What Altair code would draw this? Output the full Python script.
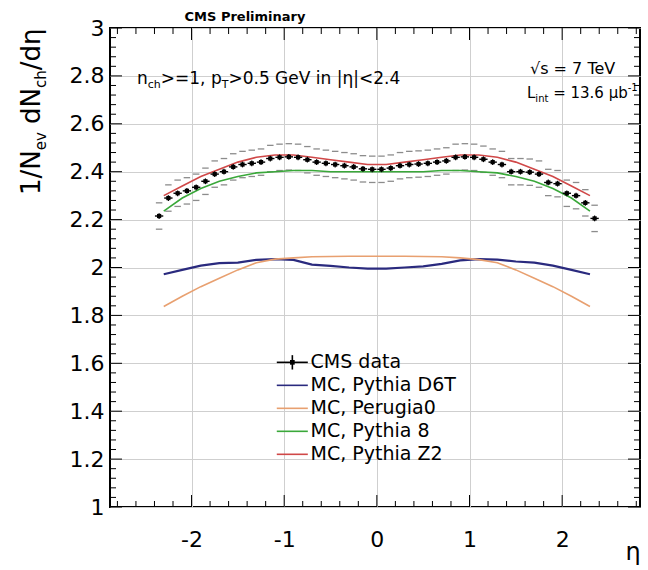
import altair as alt
import pandas as pd

# ---------------- data ----------------
ETA_DATA = [-2.35, -2.25, -2.15, -2.05, -1.95, -1.85, -1.75, -1.65, -1.55, -1.45, -1.35, -1.25,
            -1.15, -1.05, -0.95, -0.85, -0.75, -0.65, -0.55, -0.45, -0.35, -0.25, -0.15, -0.05,
            0.05, 0.15, 0.25, 0.35, 0.45, 0.55, 0.65, 0.75, 0.85, 0.95, 1.05, 1.15,
            1.25, 1.35, 1.45, 1.55, 1.65, 1.75, 1.85, 1.95, 2.05, 2.15, 2.25, 2.35]
DNDETA = [2.215, 2.29, 2.31, 2.32, 2.335, 2.36, 2.39, 2.40, 2.42, 2.43, 2.435, 2.44,
          2.455, 2.46, 2.462, 2.46, 2.45, 2.44, 2.435, 2.43, 2.425, 2.42, 2.412, 2.41,
          2.41, 2.415, 2.425, 2.43, 2.432, 2.435, 2.44, 2.445, 2.46, 2.462, 2.46, 2.452,
          2.44, 2.43, 2.40, 2.40, 2.398, 2.39, 2.355, 2.35, 2.31, 2.30, 2.27, 2.205]
STAT_ERR = 0.012
SYS_ERR = 0.055
BIN_HALF = 0.045

ETA_MC = [-2.3, -2.1, -1.9, -1.7, -1.5, -1.3, -1.1, -0.9, -0.7, -0.5, -0.3, -0.1,
          0.1, 0.3, 0.5, 0.7, 0.9, 1.1, 1.3, 1.5, 1.7, 1.9, 2.1, 2.3]
D6T = [1.972, 1.99, 2.008, 2.018, 2.02, 2.032, 2.035, 2.032, 2.012, 2.007, 2.0, 1.995,
       1.995, 2.0, 2.005, 2.015, 2.03, 2.035, 2.033, 2.025, 2.02, 2.008, 1.99, 1.972]
PERUGIA0 = [1.837, 1.88, 1.92, 1.955, 1.99, 2.02, 2.035, 2.04, 2.045, 2.046, 2.047, 2.047,
            2.047, 2.047, 2.046, 2.045, 2.04, 2.033, 2.02, 1.99, 1.955, 1.92, 1.88, 1.837]
PYTHIA8 = [2.235, 2.29, 2.33, 2.36, 2.38, 2.395, 2.40, 2.405, 2.405, 2.40, 2.40, 2.40,
           2.40, 2.40, 2.40, 2.405, 2.405, 2.40, 2.395, 2.38, 2.36, 2.33, 2.29, 2.235]
Z2 = [2.30, 2.34, 2.38, 2.41, 2.44, 2.46, 2.47, 2.47, 2.46, 2.45, 2.44, 2.43,
      2.43, 2.44, 2.45, 2.46, 2.47, 2.47, 2.46, 2.44, 2.41, 2.38, 2.34, 2.30]

MC_NAMES = ["MC, Pythia D6T", "MC, Perugia0", "MC, Pythia 8", "MC, Pythia Z2"]
MC_VALUES = [D6T, PERUGIA0, PYTHIA8, Z2]
MC_COLORS = ["#2a2a7e", "#e8a070", "#3aa83a", "#d04848"]
MC_WIDTHS = [2.2, 1.6, 1.6, 1.6]
DATA_NAME = "CMS data"

X_MAJOR = [-2, -1, 0, 1, 2]
Y_MAJOR = [1.0, 1.2, 1.4, 1.6, 1.8, 2.0, 2.2, 2.4, 2.6, 2.8, 3.0]
X_MINOR = [round(-2.8 + 0.2 * i, 2) for i in range(29) if (i % 5) != 4]
Y_MINOR = [round(1.0 + 0.04 * i, 2) for i in range(51) if i % 5 != 0]

# ---------------- layout ----------------
W, H = 530, 479
FONT = "DejaVu Sans"
XS = alt.Scale(domain=[-2.88, 2.84], nice=False, zero=False)
YS = alt.Scale(domain=[1, 3], nice=False, zero=False)
GRID = "#cfcfcf"
XAXIS = alt.Axis(values=X_MAJOR, title=None, grid=True, gridColor=GRID, ticks=False, tickSize=0,
                 domain=False, labelFont=FONT, labelFontSize=22, labelColor="black", labelPadding=22,
                 labelExpr="datum.value < 0 ? '-' + abs(datum.value) : '' + datum.value")
YAXIS = alt.Axis(values=Y_MAJOR, title=None, grid=True, gridColor=GRID, ticks=False, tickSize=0,
                 domain=False, labelFont=FONT, labelFontSize=22, labelColor="black", labelPadding=6,
                 labelExpr="'' + datum.value")


def X(f):
    return alt.X(f, type="quantitative", scale=XS, axis=XAXIS)


def Y(f):
    return alt.Y(f, type="quantitative", scale=YS, axis=YAXIS)


ADV = {' ': .318, '!': .4, ',': .318, '.': .318, '/': .337, '-': .361, '<': .838, '=': .838, '>': .838,
       '|': .337, 'n': .634, 'c': .55, 'h': .634, 'p': .635, 'T': .611, 'G': .775, 'e': .615, 'V': .684,
       'i': .278, 'N': .748, 'd': .635, 'v': .592, 'η': .634, 'L': .557, 't': .392, 's': .521, 'μ': .636,
       'b': .635, '√': .636}
for _d in "0123456789":
    ADV[_d] = .636


def tw(s, size):
    return sum(ADV.get(c, 0.6) for c in s) * size


def label(text, x, y, size, angle=0, weight="normal", align="left", baseline="alphabetic"):
    return alt.Chart(pd.DataFrame({"t": [text]})).mark_text(
        font=FONT, fontSize=size, fontWeight=weight, angle=angle, align=align,
        baseline=baseline, color="black").encode(x=alt.value(x), y=alt.value(y), text="t:N")


def rich(pieces, x0, y0, vertical=False):
    out, pos = [], 0.0
    for text, size, shift in pieces:
        lead = len(text) - len(text.lstrip(" "))
        pos += lead * ADV[" "] * size
        text = text.lstrip(" ")
        if vertical:
            out.append(label(text, x0 + shift, y0 - pos, size, angle=270))
        else:
            out.append(label(text, x0 + pos, y0 + shift, size))
        pos += tw(text, size)
    return out


# ---------------- frames ----------------
data_df = pd.DataFrame({"eta": ETA_DATA, "v": DNDETA})
data_df["lo"] = data_df["v"] - STAT_ERR
data_df["hi"] = data_df["v"] + STAT_ERR
data_df["xl"] = data_df["eta"] - BIN_HALF
data_df["xh"] = data_df["eta"] + BIN_HALF

sys_rows = []
for e, v in zip(ETA_DATA, DNDETA):
    for s in (1, -1):
        sys_rows.append({"xl": e - 0.035, "xh": e + 0.035, "y": v + s * SYS_ERR})
sys_df = pd.DataFrame(sys_rows)

mc_rows = []
for name, vals, col, sw in zip(MC_NAMES, MC_VALUES, MC_COLORS, MC_WIDTHS):
    for e, v in zip(ETA_MC, vals):
        mc_rows.append({"series": name, "eta": e, "v": v, "col": col, "sw": sw})
mc_df = pd.DataFrame(mc_rows)

# ---------------- layers ----------------
sys_layer = alt.Chart(sys_df).mark_rule(color="#8c8c8c", strokeWidth=1.3).encode(
    x=X("xl"), x2="xh", y=Y("y"))

mc_layer = alt.Chart(mc_df).mark_line().encode(
    x=X("eta"), y=Y("v"), detail="series:N",
    color=alt.Color("col:N", scale=None), strokeWidth=alt.StrokeWidth("sw:Q", scale=None),
    order="eta:Q")

data_h = alt.Chart(data_df).mark_rule(color="black", strokeWidth=1.4).encode(x=X("xl"), x2="xh", y=Y("v"))
data_v = alt.Chart(data_df).mark_rule(color="black", strokeWidth=1.2).encode(x=X("eta"), y=Y("lo"), y2="hi")
data_p = alt.Chart(data_df).mark_square(color="black", opacity=1, size=18).encode(x=X("eta"), y=Y("v"))


def ticks(vals, side, length):
    base = alt.Chart(pd.DataFrame({"p": vals})).mark_rule(color="black", strokeWidth=1)
    if side == "bottom":
        return base.encode(x=X("p"), y=alt.value(H), y2=alt.value(H - length))
    if side == "top":
        return base.encode(x=X("p"), y=alt.value(0), y2=alt.value(length))
    if side == "left":
        return base.encode(y=Y("p"), x=alt.value(0), x2=alt.value(length))
    return base.encode(y=Y("p"), x=alt.value(W), x2=alt.value(W - length))


tick_layers = []
for side in ("bottom", "top"):
    tick_layers += [ticks(X_MAJOR, side, 12), ticks(X_MINOR, side, 6)]
for side in ("left", "right"):
    tick_layers += [ticks(Y_MAJOR, side, 12), ticks(Y_MINOR, side, 6)]

# legend (positions in data coordinates)
LEG_NAMES = [DATA_NAME] + MC_NAMES
LEG_COLORS = ["black"] + MC_COLORS
leg_df = pd.DataFrame({
    "name": LEG_NAMES,
    "col": LEG_COLORS,
    "y": [1.604 - 0.096 * i for i in range(len(LEG_NAMES))],
})
leg_df["x1"] = -1.08
leg_df["x2"] = -0.745
leg_df["xt"] = -0.715
leg_df["xm"] = -0.912
leg_lines = alt.Chart(leg_df).mark_rule(strokeWidth=1.6).encode(
    x=X("x1"), x2="x2", y=Y("y"), color=alt.Color("col:N", scale=None))
leg_text = alt.Chart(leg_df).mark_text(font=FONT, fontSize=19, align="left", baseline="middle",
                                       color="black").encode(x=X("xt"), y=Y("y"), text="name:N")
leg_m_df = leg_df.iloc[[0]].copy()
leg_m_df["lo"] = leg_m_df["y"] - 0.03
leg_m_df["hi"] = leg_m_df["y"] + 0.03
leg_mv = alt.Chart(leg_m_df).mark_rule(color="black", strokeWidth=1.6).encode(x=X("xm"), y=Y("lo"), y2="hi")
leg_mp = alt.Chart(leg_m_df).mark_square(color="black", opacity=1, size=22).encode(x=X("xm"), y=Y("y"))

# annotations (pixel positions relative to plot area)
ann = []
ann.append(label("CMS Preliminary", 135, -7, 13, weight="bold", align="center"))
ann += rich([("n", 17, 0), ("ch", 11, 4), (">=1, p", 17, 0), ("T", 11, 4),
             (">0.5 GeV in |η|<2.4", 17, 0)], 27, 56)
ann.append(label("√s = 7 TeV", 420, 46, 16))
ann += rich([("L", 15, 0), ("int", 10, 4), (" = 13.6 μb", 15, 0), ("-1", 10, -7)], 417, 70)
ann.append(label("η", 523, 525, 24, align="center", baseline="middle"))
ann += rich([("1/N", 26, 0), ("ev", 15, 6), (" dN", 26, 0), ("ch", 15, 6), ("/dη", 26, 0)],
            -70, 167, vertical=True)

chart = alt.layer(
    sys_layer, mc_layer, data_h, data_v, data_p, *tick_layers,
    leg_lines, leg_mv, leg_mp, leg_text, *ann
).properties(
    width=W, height=H,
    padding={"left": 110, "top": 28, "right": 8, "bottom": 63},
    autosize=alt.AutoSizeParams(type="none"),
    background="white",
).configure_view(stroke="black", strokeWidth=2)

chart.save("out.html", embed_options={"renderer": "svg", "actions": False})
